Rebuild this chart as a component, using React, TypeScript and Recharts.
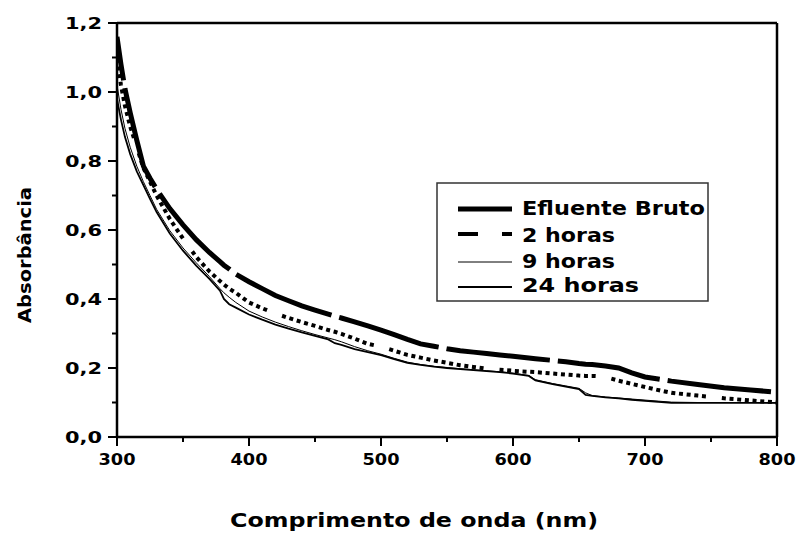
import React from 'react';
import { LineChart, Line, XAxis, YAxis, ReferenceLine, Label } from 'recharts';

const WAVELENGTH = [300,303,306,310,315,320,325,330,340,350,360,370,378,381,385,390,400,410,420,430,440,450,460,465,470,480,490,500,510,520,530,540,550,560,570,580,590,600,612,617,630,640,650,655,660,665,670,680,690,700,710,720,740,760,780,800];

const EFLUENTE_BRUTO = [1.16,1.08,1.01,0.94,0.86,0.785,0.75,0.718,0.662,0.615,0.572,0.535,0.508,0.498,0.487,0.472,0.45,0.43,0.41,0.395,0.38,0.368,0.356,0.35,0.345,0.334,0.322,0.31,0.297,0.283,0.27,0.263,0.256,0.25,0.246,0.242,0.238,0.234,0.229,0.227,0.222,0.218,0.213,0.211,0.21,0.208,0.206,0.2,0.186,0.174,0.168,0.162,0.152,0.143,0.136,0.13];

const HORAS_2 = [1.1,1.02,0.96,0.9,0.84,0.78,0.74,0.7,0.632,0.575,0.522,0.48,0.452,0.442,0.43,0.418,0.39,0.373,0.358,0.345,0.333,0.322,0.31,0.305,0.299,0.285,0.27,0.262,0.25,0.238,0.23,0.222,0.215,0.208,0.203,0.198,0.195,0.192,0.189,0.188,0.184,0.181,0.178,0.177,0.177,0.176,0.174,0.163,0.154,0.145,0.136,0.128,0.12,0.112,0.106,0.1];

const HORAS_9 = [1.02,0.95,0.895,0.84,0.785,0.74,0.7,0.66,0.598,0.548,0.505,0.465,0.43,0.418,0.405,0.39,0.365,0.348,0.333,0.32,0.308,0.297,0.287,0.282,0.276,0.262,0.25,0.24,0.228,0.217,0.21,0.205,0.201,0.198,0.195,0.192,0.189,0.185,0.178,0.166,0.155,0.148,0.141,0.128,0.12,0.118,0.116,0.113,0.11,0.107,0.104,0.101,0.1,0.1,0.1,0.099];

const HORAS_24 = [0.98,0.92,0.87,0.82,0.77,0.73,0.69,0.652,0.59,0.54,0.497,0.458,0.424,0.4,0.385,0.375,0.355,0.34,0.326,0.314,0.303,0.293,0.283,0.272,0.267,0.255,0.246,0.237,0.226,0.215,0.209,0.204,0.2,0.197,0.194,0.191,0.188,0.184,0.177,0.164,0.153,0.146,0.139,0.122,0.119,0.117,0.115,0.112,0.108,0.105,0.102,0.099,0.099,0.099,0.099,0.099];

const X_TICKS = [300,350,400,450,500,550,600,650,700,750,800];
const Y_TICKS = [0,0.1,0.2,0.3,0.4,0.5,0.6,0.7,0.8,0.9,1.0,1.1,1.2];

const SERIES_NAMES = ['Efluente Bruto', '2 horas', '9 horas', '24 horas'];
const X_TITLE = 'Comprimento de onda (nm)';
const Y_TITLE = 'Absorbância';

const data = WAVELENGTH.map((x, i) => ({
  x,
  bruto: EFLUENTE_BRUTO[i],
  h2: HORAS_2[i],
  h9: HORAS_9[i],
  h24: HORAS_24[i],
}));

const FONT = '"DejaVu Sans", Verdana, sans-serif';

const dotted = Array(12).fill('4 3.7').join(' ') + ' 4 16';

const XTick = (props: any) => {
  const { x, y, payload } = props;
  const v = payload.value;
  const major = v % 100 === 0;
  return (
    <g>
      <line x1={x} x2={x} y1={y} y2={y + (major ? 9 : 5)} stroke="#000" strokeWidth={2} />
      {major && (
        <text x={x} y={y + 28} textAnchor="middle" fontFamily={FONT} fontWeight="bold" fontSize={16} textLength={37} lengthAdjust="spacingAndGlyphs" fill="#000">
          {String(v)}
        </text>
      )}
    </g>
  );
};

const YTick = (props: any) => {
  const { x, y, payload } = props;
  const v = payload.value;
  const major = Math.round(v * 10) % 2 === 0;
  return (
    <g>
      <line x1={x} x2={x - (major ? 9 : 5)} y1={y} y2={y} stroke="#000" strokeWidth={2} />
      {major && (
        <text x={x - 15} y={y + 6} textAnchor="end" fontFamily={FONT} fontWeight="bold" fontSize={16} textLength={37} lengthAdjust="spacingAndGlyphs" fill="#000">
          {v.toFixed(1).replace('.', ',')}
        </text>
      )}
    </g>
  );
};

const LegendBox = () => {
  const rows = [
    { y: 215, ly: 209, w: 5, dash: undefined, len: 183 },
    { y: 241.5, ly: 234, w: 4, dash: '20 24', len: 93 },
    { y: 268, ly: 262, w: 1, dash: undefined, len: 93 },
    { y: 292, ly: 287, w: 2, dash: undefined, len: 117 },
  ];
  return (
    <svg width={797} height={534} style={{ position: 'absolute', left: 0, top: 0, pointerEvents: 'none' }}>
      <rect x={437} y={183} width={271} height={118} fill="#fff" stroke="#333" strokeWidth={1.5} />
      {rows.map((r, i) => (
        <g key={i}>
          <line x1={458} x2={512} y1={r.ly} y2={r.ly} stroke="#000" strokeWidth={r.w} strokeDasharray={r.dash} />
          <text x={522} y={r.y} fontFamily={FONT} fontWeight="bold" fontSize={19} textLength={r.len} lengthAdjust="spacingAndGlyphs" fill="#000">
            {SERIES_NAMES[i]}
          </text>
        </g>
      ))}
    </svg>
  );
};

export default function App() {
  return (
    <div style={{ position: 'absolute', left: 0, top: 0, width: 797, height: 534, background: '#fff' }}>
      <LineChart width={797} height={534} data={data} margin={{ top: 23, right: 20, bottom: 67, left: 57 }}>
        <XAxis
          dataKey="x"
          type="number"
          domain={[300, 800]}
          ticks={X_TICKS}
          interval={0}
          tickSize={0}
          tickMargin={0}
          tickLine={false}
          tick={<XTick />}
          axisLine={{ stroke: '#000', strokeWidth: 2.5 }}
          allowDataOverflow
        >
          <Label
            content={() => (
              <text x={414} y={527} textAnchor="middle" fontFamily={FONT} fontWeight="bold" fontSize={19} textLength={368} lengthAdjust="spacingAndGlyphs" fill="#000">
                {X_TITLE}
              </text>
            )}
          />
        </XAxis>
        <YAxis
          type="number"
          domain={[0, 1.2]}
          ticks={Y_TICKS}
          interval={0}
          width={60}
          tickSize={0}
          tickMargin={0}
          tickLine={false}
          tick={<YTick />}
          axisLine={{ stroke: '#000', strokeWidth: 2.5 }}
          allowDataOverflow
        >
          <Label
            content={() => (
              <text x={31} y={255} transform="rotate(-90, 31, 255)" textAnchor="middle" fontFamily={FONT} fontWeight="bold" fontSize={17} textLength={136} lengthAdjust="spacingAndGlyphs" fill="#000">
                {Y_TITLE}
              </text>
            )}
          />
        </YAxis>
        <ReferenceLine y={1.2} stroke="#000" strokeWidth={2.5} />
        <ReferenceLine x={800} stroke="#000" strokeWidth={2.5} />
        <Line type="linear" dataKey="h9" name={SERIES_NAMES[2]} stroke="#000" strokeWidth={1} dot={false} isAnimationActive={false} />
        <Line type="linear" dataKey="h24" name={SERIES_NAMES[3]} stroke="#000" strokeWidth={1.8} dot={false} isAnimationActive={false} />
        <Line type="linear" dataKey="h2" name={SERIES_NAMES[1]} stroke="#000" strokeWidth={4} strokeDasharray={dotted} strokeDashoffset={14} dot={false} isAnimationActive={false} />
        <Line type="linear" dataKey="bruto" name={SERIES_NAMES[0]} stroke="#000" strokeWidth={5} strokeDasharray="104 8" strokeDashoffset={60} dot={false} isAnimationActive={false} />
      </LineChart>
      <LegendBox />
    </div>
  );
}
